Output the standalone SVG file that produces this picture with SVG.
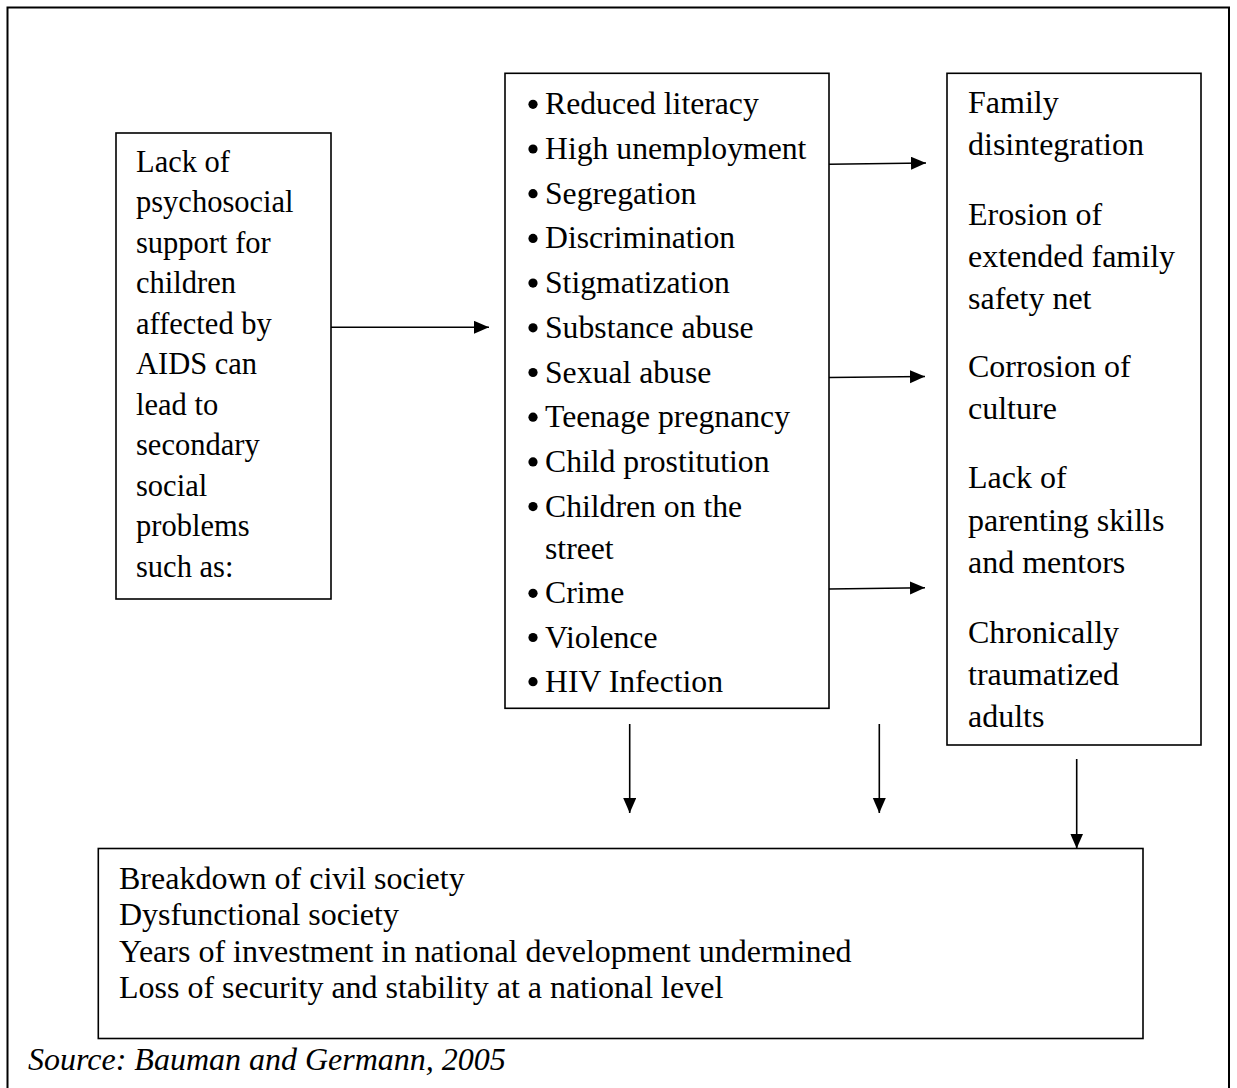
<svg xmlns="http://www.w3.org/2000/svg" width="1237" height="1088" viewBox="0 0 1237 1088">
<style>
.box{fill:#fff;stroke:#000;stroke-width:1.6}
.frame{fill:none;stroke:#000;stroke-width:2}
.t{font-family:"Liberation Serif","Times New Roman",serif;fill:#000}
.l{font-size:30.5px}
.m{font-size:31.7px}
.r{font-size:32px}
.b{font-size:32px}
.src{font-size:32px;font-style:italic}
.c{stroke:#000;stroke-width:1.6;fill:none;marker-end:url(#ah)}
</style>
<defs>
<marker id="ah" markerUnits="userSpaceOnUse" markerWidth="16" markerHeight="14" refX="15" refY="6.5" orient="auto">
<path d="M0,0 L15,6.5 L0,13 z" fill="#000"/>
</marker>
</defs>
<rect width="1237" height="1088" fill="#fff"/>
<rect class="frame" x="7.5" y="7.5" width="1221.5" height="1100"/>
<g id="node-cause">
<rect class="box" x="116" y="133" width="215" height="466"/>
<text class="t l" x="136" y="171.7">Lack of</text>
<text class="t l" x="136" y="212.2">psychosocial</text>
<text class="t l" x="136" y="252.7">support for</text>
<text class="t l" x="136" y="293.2">children</text>
<text class="t l" x="136" y="333.7">affected by</text>
<text class="t l" x="136" y="374.2">AIDS can</text>
<text class="t l" x="136" y="414.7">lead to</text>
<text class="t l" x="136" y="455.2">secondary</text>
<text class="t l" x="136" y="495.7">social</text>
<text class="t l" x="136" y="536.2">problems</text>
<text class="t l" x="136" y="576.7">such as:</text>
</g>
<g id="node-problems">
<rect class="box" x="505" y="73.3" width="324" height="635"/>
<g fill="#000">
<circle cx="533" cy="104.3" r="4.6"/>
<circle cx="533" cy="149" r="4.6"/>
<circle cx="533" cy="193.7" r="4.6"/>
<circle cx="533" cy="238.4" r="4.6"/>
<circle cx="533" cy="283.1" r="4.6"/>
<circle cx="533" cy="327.8" r="4.6"/>
<circle cx="533" cy="372.5" r="4.6"/>
<circle cx="533" cy="417.2" r="4.6"/>
<circle cx="533" cy="461.9" r="4.6"/>
<circle cx="533" cy="506.6" r="4.6"/>
<circle cx="533" cy="593.3" r="4.6"/>
<circle cx="533" cy="637.5" r="4.6"/>
<circle cx="533" cy="681.7" r="4.6"/>
</g>
<text class="t m" x="545" y="114.3">Reduced literacy</text>
<text class="t m" x="545" y="159">High unemployment</text>
<text class="t m" x="545" y="203.7">Segregation</text>
<text class="t m" x="545" y="248.4">Discrimination</text>
<text class="t m" x="545" y="293.1">Stigmatization</text>
<text class="t m" x="545" y="337.8">Substance abuse</text>
<text class="t m" x="545" y="382.5">Sexual abuse</text>
<text class="t m" x="545" y="427.2">Teenage pregnancy</text>
<text class="t m" x="545" y="471.9">Child prostitution</text>
<text class="t m" x="545" y="516.6">Children on the</text>
<text class="t m" x="545" y="559">street</text>
<text class="t m" x="545" y="603.3">Crime</text>
<text class="t m" x="545" y="647.5">Violence</text>
<text class="t m" x="545" y="691.7">HIV Infection</text>
</g>
<g id="node-effects">
<rect class="box" x="947" y="73.3" width="254" height="671.7"/>
<text class="t r" x="968" y="113">Family</text>
<text class="t r" x="968" y="155">disintegration</text>
<text class="t r" x="968" y="225">Erosion of</text>
<text class="t r" x="968" y="267">extended family</text>
<text class="t r" x="968" y="309">safety net</text>
<text class="t r" x="968" y="377">Corrosion of</text>
<text class="t r" x="968" y="419">culture</text>
<text class="t r" x="968" y="488">Lack of</text>
<text class="t r" x="968" y="531">parenting skills</text>
<text class="t r" x="968" y="573">and mentors</text>
<text class="t r" x="968" y="643">Chronically</text>
<text class="t r" x="968" y="685">traumatized</text>
<text class="t r" x="968" y="727">adults</text>
</g>
<g id="node-outcome">
<rect class="box" x="98.3" y="848.5" width="1044.7" height="190"/>
<text class="t b" x="119" y="889">Breakdown of civil society</text>
<text class="t b" x="119" y="925">Dysfunctional society</text>
<text class="t b" x="119" y="961.5">Years of investment in national development undermined</text>
<text class="t b" x="119" y="998">Loss of security and stability at a national level</text>
</g>
<g id="connectors">
<line class="c" x1="331" y1="327.3" x2="489" y2="327.3"/>
<line class="c" x1="829" y1="164.3" x2="926" y2="163"/>
<line class="c" x1="829" y1="377.5" x2="925" y2="376.5"/>
<line class="c" x1="829" y1="589" x2="925" y2="587.7"/>
<line class="c" x1="629.7" y1="724" x2="629.7" y2="813"/>
<line class="c" x1="879.3" y1="724" x2="879.3" y2="813"/>
<line class="c" x1="1076.7" y1="759" x2="1076.7" y2="848.5"/>
</g>
<text class="t src" x="28" y="1070">Source: Bauman and Germann, 2005</text>
</svg>
